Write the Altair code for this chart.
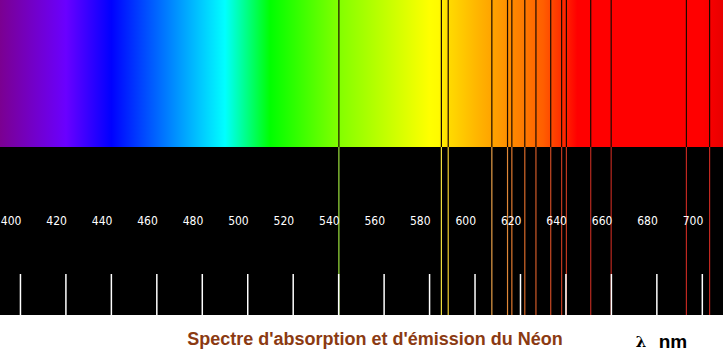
import altair as alt
import pandas as pd

# Visible wavelength window (nm)
lam_min = [391.0]
lam_max = [709.1]

# Neon lines (nm)
lines_nm = [540.1, 585.2, 588.2, 607.4, 614.3, 616.2, 621.9, 626.8, 633.3,
            638.1, 640.2, 650.9, 659.9, 693.0, 703.2]
line_colors = ["#9BE03C", "#F0E040", "#F0D030", "#E8A048", "#E08838", "#E07A30",
               "#D86A2A", "#D05A28", "#C84A25", "#C03A20", "#C03820", "#B82A20",
               "#B82820", "#C02820", "#C02820"]

# Scale ticks
ticks_nm = [400, 420, 440, 460, 480, 500, 520, 540, 560, 580, 600, 620, 640, 660, 680, 700]
tick_labels = [str(t) for t in ticks_nm]

# Spectrum colour stops (nm -> colour)
grad_nm = [391, 420, 440, 490, 510, 540, 580, 584, 588, 600, 610, 620, 630, 640, 645, 700, 709.1]
grad_colors = ["#7B0091", "#6A00FF", "#0000FF", "#00FFFF", "#00FF00", "#82FF00",
               "#FFFF00", "#FFFA00", "#FFDC00", "#FFB800", "#FF9C00", "#FF7E00",
               "#FF5E00", "#FF2200", "#FF0000", "#FF0000", "#E80000"]

title_text = ["Spectre d'absorption et d'émission du Néon"]
unit_lambda = ["λ"]
unit_nm = ["nm"]

W, H = 723, 355
lo, hi = lam_min[0], lam_max[0]

xscale = alt.Scale(domain=[lo, hi], range=[0, W], nice=False, zero=False)

band = pd.DataFrame({"lo": lam_min, "hi": lam_max})
lines_df = pd.DataFrame({"nm": lines_nm, "col": line_colors})
ticks_df = pd.DataFrame({"nm": ticks_nm, "label": tick_labels})

grad = alt.Gradient(
    gradient="linear",
    stops=[alt.GradientStop(offset=(n - lo) / (hi - lo), color=c)
           for n, c in zip(grad_nm, grad_colors)],
    x1=0, x2=1, y1=0, y2=0,
)

spectrum = alt.Chart(band).mark_rect(color=grad).encode(
    x=alt.X("lo:Q", scale=xscale, axis=None), x2="hi:Q",
    y=alt.value(0), y2=alt.value(147),
)

black = alt.Chart(band).mark_rect(color="black").encode(
    x=alt.X("lo:Q", scale=xscale, axis=None), x2="hi:Q",
    y=alt.value(147), y2=alt.value(315),
)

absorption = alt.Chart(lines_df).mark_rule(color="#1A0A00", strokeWidth=1.2).encode(
    x=alt.X("nm:Q", scale=xscale, axis=None),
    y=alt.value(0), y2=alt.value(147),
)

emission = alt.Chart(lines_df).mark_rule(strokeWidth=1.2).encode(
    x=alt.X("nm:Q", scale=xscale, axis=None),
    color=alt.Color("col:N", scale=None, legend=None),
    y=alt.value(147), y2=alt.value(315),
)

tick_rules = alt.Chart(ticks_df).mark_rule(color="white", strokeWidth=1.5).encode(
    x=alt.X("nm:Q", scale=xscale, axis=None),
    y=alt.value(274), y2=alt.value(315),
)

tick_text = alt.Chart(ticks_df).mark_text(
    align="right", baseline="alphabetic", color="white",
    font="'Liberation Sans Narrow', 'DejaVu Sans Condensed', 'Liberation Sans', sans-serif",
    fontSize=12, dx=1,
).encode(
    x=alt.X("nm:Q", scale=xscale, axis=None),
    y=alt.value(225),
    text="label:N",
)

title = alt.Chart(pd.DataFrame({"t": title_text})).mark_text(
    align="center", baseline="alphabetic", color="#8B3A12",
    font="Liberation Sans", fontWeight="bold", fontSize=18,
).encode(x=alt.value(375), y=alt.value(345), text="t:N")

lam = alt.Chart(pd.DataFrame({"t": unit_lambda})).mark_text(
    align="center", baseline="alphabetic", color="black",
    font="DejaVu Serif", fontWeight="bold", fontSize=15,
).encode(x=alt.value(641), y=alt.value(347), text="t:N")

nm = alt.Chart(pd.DataFrame({"t": unit_nm})).mark_text(
    align="center", baseline="alphabetic", color="black",
    font="Liberation Sans", fontWeight="bold", fontSize=19,
).encode(x=alt.value(673), y=alt.value(348), text="t:N")

chart = alt.layer(
    black, spectrum, absorption, emission, tick_rules, tick_text, title, lam, nm
).properties(
    width=W, height=H, autosize=alt.AutoSizeParams(type="none"), padding=0,
    background="white",
).configure_view(stroke=None)

chart.save("out.html", embed_options={"renderer": "svg", "actions": False})
